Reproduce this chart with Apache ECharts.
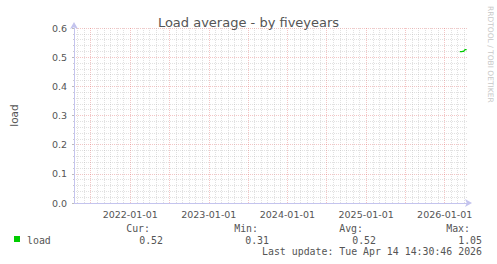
<!DOCTYPE html>
<html>
<head>
<meta charset="utf-8">
<script src="https://cdn.jsdelivr.net/npm/echarts@6/dist/echarts.min.js"></script>
<style>html,body{margin:0;padding:0;background:#fff}#c{width:497px;height:264px}</style>
</head>
<body>
<div id="c"></div>
<script>
// ---- data ----
var titleText = 'Load average - by fiveyears';
var yName = 'load';
var xStart = '2021-04-14T14:30:46';
var xEnd = '2026-04-14T14:30:46';
var xTickLabels = ['2022-01-01', '2023-01-01', '2024-01-01', '2025-01-01', '2026-01-01'];
var loadDates = ['2026-03-12', '2026-03-17', '2026-03-21', '2026-03-26', '2026-03-30', '2026-04-04', '2026-04-08', '2026-04-13'];
var loadValues = [0.519, 0.519, 0.519, 0.52, 0.52, 0.525, 0.526, 0.526];
var legendHeaders = ['Cur:', 'Min:', 'Avg:', 'Max:'];
var legendValues = ['0.52', '0.31', '0.52', '1.05'];
var seriesName = 'load';
var lastUpdate = 'Last update: Tue Apr 14 14:30:46 2026';

function pad(n){return (n<10?'0':'')+n;}
function ts(s){ return new Date(s.length === 10 ? s + 'T00:00:00' : s).getTime(); }

// grid line dates (monthly minor, half-year major)
var minorDates = [], majorDates = [];
(function(){
  var s = new Date(ts(xStart)), e = ts(xEnd);
  var y = s.getFullYear(), m = s.getMonth() + 1;
  while (true) {
    m++; if (m > 12) { m = 1; y++; }
    var str = y + '-' + pad(m) + '-01';
    if (ts(str) > e) break;
    if (m === 1 || m === 7) majorDates.push(str); else minorDates.push(str);
  }
})();

var chart = echarts.init(document.getElementById('c'), null, {renderer: 'svg'});
var mono = 'DejaVu Sans Mono';
var sans = 'DejaVu Sans';
var txtColor = '#555';
var axisColor = '#c4c4ee';
var minorColor = 'rgba(170,170,170,0.35)';
var majorColor = 'rgba(220,90,90,0.35)';

function vLines(dates){ return dates.map(function(d){ return {xAxis: ts(d)}; }); }

var graphics = [];
var hdrX = [150, 258, 363, 470];
var valX = [163, 269, 376, 482];
var monoFont = '9.9px "' + mono + '"';
legendHeaders.forEach(function(h, i){
  graphics.push({type:'text', x: hdrX[i], y: 228, style:{text:h, fill:txtColor, font:monoFont, textAlign:'right', textVerticalAlign:'middle'}});
  graphics.push({type:'text', x: valX[i], y: 240, style:{text:legendValues[i], fill:txtColor, font:monoFont, textAlign:'right', textVerticalAlign:'middle'}});
});
graphics.push({type:'rect', shape:{x:14, y:236, width:6, height:6}, style:{fill:'#00cc00'}});
graphics.push({type:'text', x: 27, y: 240, style:{text:seriesName, fill:txtColor, font:monoFont, textAlign:'left', textVerticalAlign:'middle'}});
graphics.push({type:'text', x: 482, y: 251, style:{text:lastUpdate, fill:txtColor, font:monoFont, textAlign:'right', textVerticalAlign:'middle'}});
graphics.push({type:'text', x: 490, y: 6, rotation: -Math.PI/2, style:{text:'RRDTOOL / TOBI OETIKER', fill:'#c8c8c8', font:'7.5px "'+sans+'"', textAlign:'left', textVerticalAlign:'middle'}});

chart.setOption({
  animation: false,
  backgroundColor: '#fff',
  title: {
    text: titleText, left: 'center', top: 11,
    textStyle: {fontFamily: sans, fontSize: 13, fontWeight: 'normal', color: txtColor}
  },
  grid: {left: 67, right: 30, top: 28, bottom: 61, containLabel: false},
  xAxis: {
    type: 'value',
    min: ts(xStart), max: ts(xEnd),
    axisLine: {show: true, onZero: false, lineStyle: {color: axisColor, width: 1}, symbol: ['none', 'arrow'], symbolSize: [6, 7], symbolOffset: [0, 5]},
    axisTick: {show: false},
    splitLine: {show: false},
    axisLabel: {
      customValues: xTickLabels.map(ts),
      formatter: function(v){ var d = new Date(v); return d.getFullYear()+'-'+pad(d.getMonth()+1)+'-'+pad(d.getDate()); },
      fontFamily: sans, fontSize: 9.5, color: txtColor, margin: 6
    }
  },
  yAxis: {
    type: 'value', min: 0, max: 0.6, interval: 0.1,
    name: yName, nameLocation: 'middle', nameRotate: 90, nameGap: 55,
    nameTextStyle: {fontFamily: sans, fontSize: 10.5, color: txtColor},
    axisLine: {show: true, lineStyle: {color: axisColor, width: 1}, symbol: ['none', 'arrow'], symbolSize: [6, 7], symbolOffset: [0, 6]},
    axisTick: {show: true, length: 2, lineStyle: {color: '#bbb'}},
    minorTick: {show: true, splitNumber: 5, length: 1, lineStyle: {color: '#ccc'}},
    splitLine: {show: true, lineStyle: {color: majorColor, type: [1, 1], width: 1}},
    minorSplitLine: {show: true, lineStyle: {color: minorColor, type: [1, 1], width: 1}},
    axisLabel: {fontFamily: sans, fontSize: 9.5, color: txtColor, margin: 7, formatter: function(v){ return v.toFixed(1); }}
  },
  graphic: graphics,
  series: [
    {type: 'line', data: [], silent: true, z: 1,
     markLine: {silent: true, symbol: ['none', 'none'], label: {show: false}, animation: false,
       lineStyle: {color: minorColor, type: [1, 1], width: 1}, data: vLines(minorDates)}},
    {type: 'line', data: [], silent: true, z: 1,
     markLine: {silent: true, symbol: ['none', 'none'], label: {show: false}, animation: false,
       lineStyle: {color: majorColor, type: [1, 1], width: 1}, data: vLines(majorDates)}},
    {type: 'line', name: seriesName, z: 5,
     data: loadDates.map(function(d, i){ return [ts(d), loadValues[i]]; }),
     showSymbol: false, symbol: 'none', color: '#00cc00',
     itemStyle: {color: '#00cc00'},
     lineStyle: {color: '#00cc00', width: 1.2, type: 'solid'}}
  ]
});
</script>
</body>
</html>
